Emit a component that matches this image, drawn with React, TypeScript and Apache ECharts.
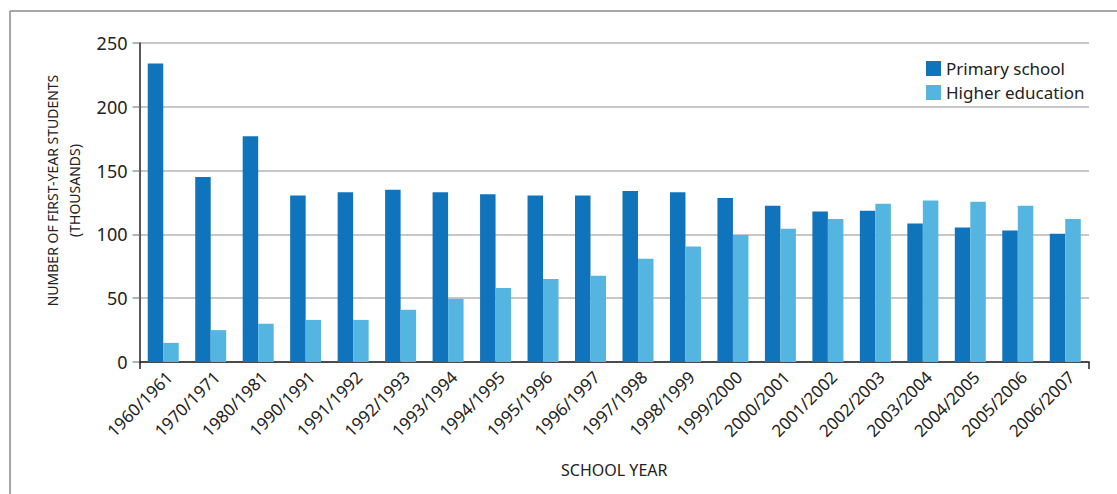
import React, { useEffect, useRef } from "react";
import * as echarts from "echarts";

const categories = [
  "1960/1961", "1970/1971", "1980/1981", "1990/1991", "1991/1992", "1992/1993",
  "1993/1994", "1994/1995", "1995/1996", "1996/1997", "1997/1998", "1998/1999",
  "1999/2000", "2000/2001", "2001/2002", "2002/2003", "2003/2004", "2004/2005",
  "2005/2006", "2006/2007",
];
const primarySchool = [
  234, 145, 177, 130.5, 133, 135, 133, 131.5, 130.5, 130.5, 134, 133,
  128.5, 122.5, 118, 118.5, 108.5, 105.5, 103, 100.5,
];
const higherEducation = [
  15, 25, 30, 33, 33, 41, 49.5, 58, 65, 67.5, 81, 90.5,
  99.5, 104.5, 112, 124, 126.5, 125.5, 122.5, 112,
];
const yTicks = { min: 0, max: 250, interval: 50 };

const FONT = "'Noto Sans', 'Open Sans', sans-serif";

export default function App() {
  const ref = useRef<HTMLDivElement>(null);
  useEffect(() => {
    if (!ref.current) return;
    const chart = echarts.init(ref.current, undefined, { renderer: "svg" });
    chart.setOption({
      animation: false,
      textStyle: { fontFamily: FONT },
      grid: { left: 139.5, right: 28, top: 43, bottom: 132 },
      legend: {
        orient: "vertical",
        left: 921,
        top: 55,
        itemWidth: 15,
        itemHeight: 15,
        itemGap: 7,
        icon: "rect",
        textStyle: { fontSize: 17, color: "#222", fontFamily: FONT },
        data: ["Primary school", "Higher education"],
      },
      xAxis: {
        type: "category",
        data: categories,
        name: "SCHOOL YEAR",
        nameLocation: "middle",
        nameGap: 100,
        nameTextStyle: { fontSize: 16, color: "#222", fontFamily: FONT },
        axisLine: { lineStyle: { color: "#222", width: 1.5 } },
        axisTick: { show: true, interval: (i: number) => i === 0, length: 7, lineStyle: { color: "#222", width: 1.5 } },
        axisLabel: { rotate: 45, fontSize: 17, color: "#222", margin: 6, verticalAlign: "top", interval: 0, fontFamily: FONT },
      },
      yAxis: {
        type: "value",
        min: yTicks.min,
        max: yTicks.max,
        interval: yTicks.interval,
        name: "NUMBER OF FIRST-YEAR STUDENTS\n(THOUSANDS)",
        nameLocation: "middle",
        nameRotate: 90,
        nameGap: 53,
        nameTextStyle: { fontSize: 14, color: "#222", lineHeight: 22, fontFamily: FONT, align: "center", padding: [0, 0, 0, 24] },
        axisLine: { show: true, lineStyle: { color: "#222", width: 1.5 } },
        axisTick: { show: true, length: 7, lineStyle: { color: "#999", width: 1.5 } },
        axisLabel: { fontSize: 18, color: "#222", margin: 12, fontFamily: FONT },
        splitLine: { lineStyle: { color: "#b5b5b5", width: 1.5 } },
      },
      series: [
        {
          name: "Primary school",
          type: "bar",
          data: primarySchool,
          barWidth: 15.5,
          barGap: "0%",
          itemStyle: { color: "#1074bc" },
        },
        {
          name: "Higher education",
          type: "bar",
          data: higherEducation,
          barWidth: 15.5,
          barGap: "0%",
          itemStyle: { color: "#54b6e0" },
        },
      ],
      graphic: [
        { type: "line", shape: { x1: 10, y1: 11, x2: 1117, y2: 11 }, style: { stroke: "#8a8a8a", lineWidth: 1.5 } },
        { type: "line", shape: { x1: 10, y1: 11, x2: 10, y2: 494 }, style: { stroke: "#8a8a8a", lineWidth: 1.5 } },
      ],
    });
    return () => chart.dispose();
  }, []);
  return (
    <div
      ref={ref}
      style={{ position: "fixed", left: 0, top: 0, width: 1117, height: 494, background: "#fff" }}
    />
  );
}
